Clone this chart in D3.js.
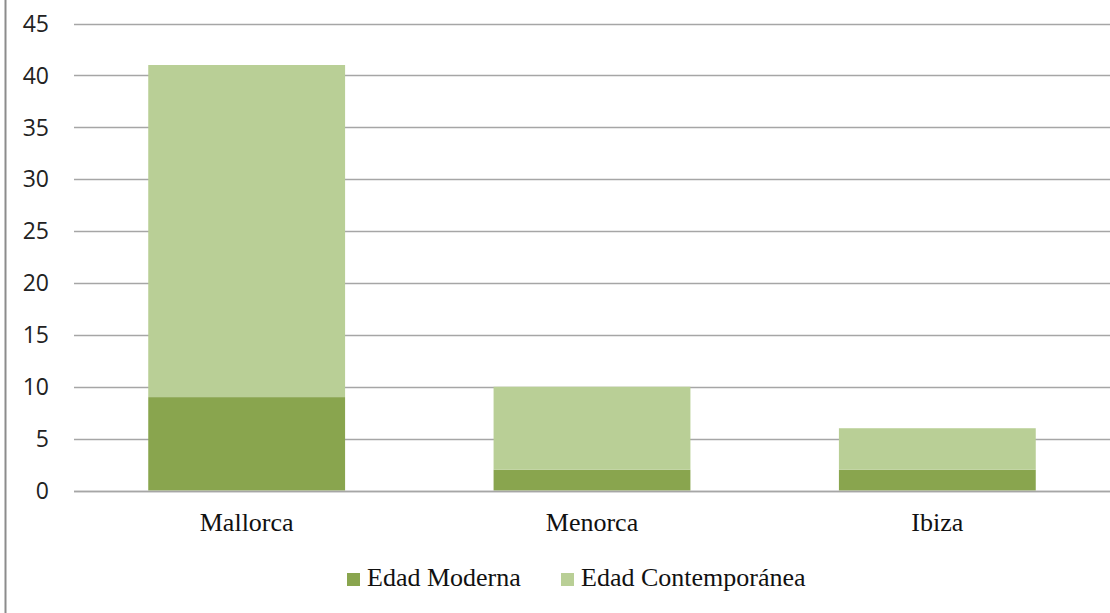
<!DOCTYPE html>
<html>
<head>
<meta charset="utf-8">
<script src="https://cdn.jsdelivr.net/npm/d3@7"></script>
<style>
  body { margin: 0; background: #fff; }
  svg { display: block; }
</style>
</head>
<body>
<svg id="chart"></svg>
<script>
var categories = ["Mallorca", "Menorca", "Ibiza"];
var seriesNames = ["Edad Moderna", "Edad Contemporánea"];
var moderna = [9, 2, 2];
var contemporanea = [32, 8, 4];
var yTicks = [0, 5, 10, 15, 20, 25, 30, 35, 40, 45];
var colors = ["#89a54e", "#b9cf96"];

var width = 1110, height = 613;
var plotLeft = 74, plotRight = 1110, plotTop = 23.5, plotBottom = 490.5;

var svg = d3.select("#chart").attr("width", width).attr("height", height);

// borde del grafico a la izquierda
svg.append("line")
  .attr("x1", 5.5).attr("x2", 5.5).attr("y1", 0).attr("y2", height)
  .style("stroke", "#8c8c8c").style("stroke-width", "2px");

var x = d3.scaleBand().domain(categories).range([plotLeft, plotRight]).paddingInner(0.43).paddingOuter(0.215);
var y = d3.scaleLinear().domain([0, 45]).range([plotBottom, plotTop]);

// lineas de cuadricula
svg.append("g").selectAll("line")
  .data(yTicks)
  .enter().append("line")
  .attr("x1", plotLeft).attr("x2", plotRight)
  .attr("y1", function(d) { return Math.round(y(d)) + 0.5; })
  .attr("y2", function(d) { return Math.round(y(d)) + 0.5; })
  .style("stroke", "#a6a6a6").style("stroke-width", "1.3px");

var yAxis = d3.axisLeft(y).tickValues(yTicks).tickSize(0).tickPadding(0);
var gy = svg.append("g").attr("transform", "translate(49,0)").call(yAxis);
gy.select(".domain").remove();
gy.selectAll("text")
  .style("font-family", "'Open Sans', sans-serif")
  .style("font-size", "23px")
  .style("fill", "#222")
  .attr("dy", "0.34em")
  .attr("text-anchor", "end");

var stackData = categories.map(function(c, i) {
  return { cat: c, m: moderna[i], c: contemporanea[i] };
});
var stack = d3.stack().keys(["m", "c"]);
var layers = stack(stackData);

svg.append("g").selectAll("g")
  .data(layers)
  .enter().append("g")
  .style("fill", function(d, i) { return colors[i]; })
  .selectAll("rect")
  .data(function(d) { return d; })
  .enter().append("rect")
  .attr("x", function(d) { return x(d.data.cat); })
  .attr("width", x.bandwidth())
  .attr("y", function(d) { return y(d[1]); })
  .attr("height", function(d) { return y(d[0]) - y(d[1]); });

// linea base
svg.append("line")
  .attr("x1", plotLeft).attr("x2", plotRight)
  .attr("y1", Math.round(y(0)) + 0.5).attr("y2", Math.round(y(0)) + 0.5)
  .style("stroke", "#a6a6a6").style("stroke-width", "1.5px");

var xAxis = d3.axisBottom(x).tickSize(0).tickPadding(0);
var gx = svg.append("g").attr("transform", "translate(0,531)").call(xAxis);
gx.select(".domain").remove();
gx.selectAll("text")
  .attr("dy", 0)
  .style("font-family", "'Liberation Serif', 'Times New Roman', serif")
  .style("font-size", "26px")
  .style("fill", "#111");

// leyenda
var legendX = [347, 561];
var legend = svg.append("g").selectAll("g")
  .data(seriesNames)
  .enter().append("g")
  .attr("transform", function(d, i) { return "translate(" + legendX[i] + ",573)"; });
legend.append("rect")
  .attr("width", 13).attr("height", 13)
  .style("fill", function(d, i) { return colors[i]; });
legend.append("text")
  .attr("x", 20).attr("y", 13)
  .style("font-family", "'Liberation Serif', 'Times New Roman', serif")
  .style("font-size", "26px")
  .style("fill", "#111")
  .text(function(d) { return d; });
</script>
</body>
</html>
